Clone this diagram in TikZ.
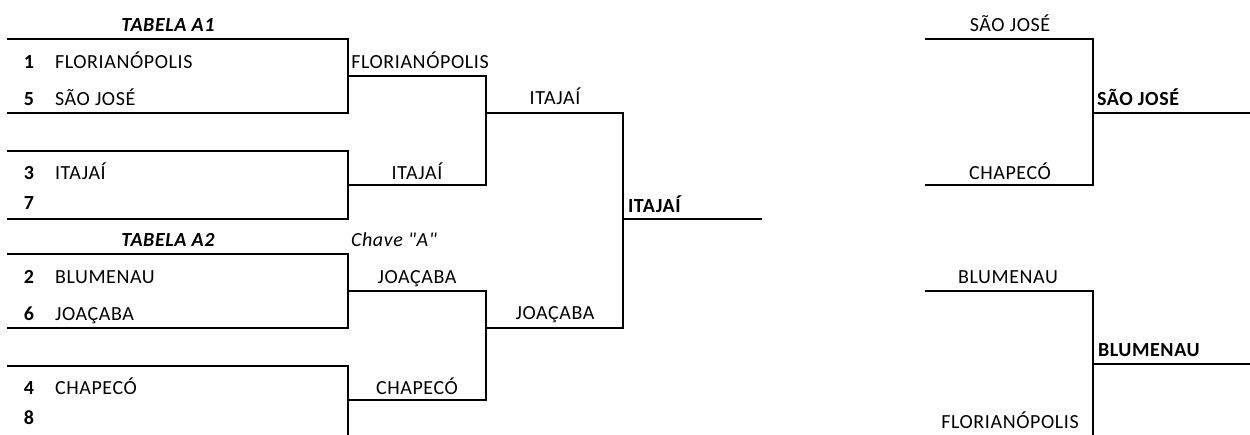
\documentclass[tikz,border=0pt]{standalone}
\usepackage{fontspec}
\setmainfont{Carlito}[LetterSpace=3, Ligatures=TeXOff]
\usetikzlibrary{positioning}
\newcommand{\bigfont}{\fontsize{20}{24}\selectfont}
\tikzset{
	lbl/.style={inner sep=0pt, text height=13pt, text depth=0pt, font=\bigfont},
	seed/.style={lbl, font=\bigfont\bfseries},
	team/.style={lbl, anchor=west},
	winner/.style={lbl, anchor=west, font=\bigfont\bfseries},
	head/.style={lbl, font=\bigfont\bfseries\itshape}
}
\begin{document}
\begin{tikzpicture}[x=1pt, y=-1pt, line width=2pt]
			    		\useasboundingbox (0,0) rectangle (1250,435);
			    		\coordinate (s1) at (7,39);
			    		\coordinate (s5) at (7,113);
			    		\coordinate (s3) at (7,151);
			    		\coordinate (s7) at (7,219);
			    		\coordinate (s2) at (7,254);
			    		\coordinate (s6) at (7,328);
			    		\coordinate (s4) at (7,366);
			    		\coordinate (s8) at (7,435);
			    		\coordinate (m15) at (348,76);
			    		\coordinate (m37) at (348,185);
			    		\coordinate (m26) at (348,291);
			    		\coordinate (m48) at (348,400);
			    		\coordinate (q1) at (486,113);
			    		\coordinate (q2) at (486,328);
			    		\coordinate (fin) at (623,219);
			    		\coordinate (finend) at (762,219);
			    		\coordinate (sj) at (925,39);
			    		\coordinate (ch) at (925,185);
			    		\coordinate (bl) at (925,291);
			    		\coordinate (fl) at (925,435);
			    		\coordinate (w1) at (1093,113);
			    		\coordinate (w2) at (1093,364);
			    		\coordinate (w1end) at (1250,113);
			    		\coordinate (w2end) at (1250,364);
			    		\draw (s1) -| (m15) |- (s5);
			    		\draw (s3) -| (m37) |- (s7);
			    		\draw (s2) -| (m26) |- (s6);
			    		\draw (s4) -| (m48) -- (m48 |- s8);
			    		\draw (m15) -| (q1) |- (m37);
			    		\draw (m26) -| (q2) |- (m48);
			    		\draw (q1) -| (fin) |- (q2);
			    		\draw (fin) -- (finend);
			    		\draw (sj) -| (w1) |- (ch);
			    		\draw (w1) -- (w1end);
			    		\draw (bl) -| (w2) -- (w2 |- fl);
			    		\draw (w2) -- (w2end);
			    		\node[head] (ta1) at (168,25) {TABELA A1};
			    		\node[head] (ta2) at (168,240) {TABELA A2};
			    		\node[lbl, anchor=west, font=\bigfont\itshape] (chave) at (350,240) {Chave "A"};
			    		\node[seed] (n1) at (29,62) {1};
			    		\node[seed] (n5) at (29,99) {5};
			    		\node[seed] (n3) at (29,173) {3};
			    		\node[seed] (n7) at (29,203) {7};
			    		\node[seed] (n2) at (29,277) {2};
			    		\node[seed] (n6) at (29,314) {6};
			    		\node[seed] (n4) at (29,388) {4};
			    		\node[seed] (n8) at (29,418) {8};
			    		\node[team, right=19pt of n1] (t1) {FLORIANÓPOLIS};
			    		\node[team, right=19pt of n5] (t5) {SÃO JOSÉ};
			    		\node[team, right=19pt of n3] (t3) {ITAJAÍ};
			    		\node[team, right=19pt of n2] (t2) {BLUMENAU};
			    		\node[team, right=19pt of n6] (t6) {JOAÇABA};
			    		\node[team, right=19pt of n4] (t4) {CHAPECÓ};
			    		\node[lbl] (r15) at (420,62) {FLORIANÓPOLIS};
			    		\node[lbl] (r37) at (417,173) {ITAJAÍ};
			    		\node[lbl] (r26) at (417,277) {JOAÇABA};
			    		\node[lbl] (r48) at (417,388) {CHAPECÓ};
			    		\node[lbl] (sf1) at (555,98) {ITAJAÍ};
			    		\node[lbl] (sf2) at (555,313) {JOAÇABA};
			    		\node[winner] (champ) at (627,206) {ITAJAÍ};
			    		\node[lbl] (rsj) at (1010,25) {SÃO JOSÉ};
			    		\node[lbl] (rch) at (1010,173) {CHAPECÓ};
			    		\node[lbl] (rbl) at (1008,277) {BLUMENAU};
			    		\node[lbl] (rfl) at (1010,422) {FLORIANÓPOLIS};
			    		\node[winner] (wsj) at (1096,99) {SÃO JOSÉ};
			    		\node[winner] (wbl) at (1097,350) {BLUMENAU};
			    	\end{tikzpicture}
\end{document}
